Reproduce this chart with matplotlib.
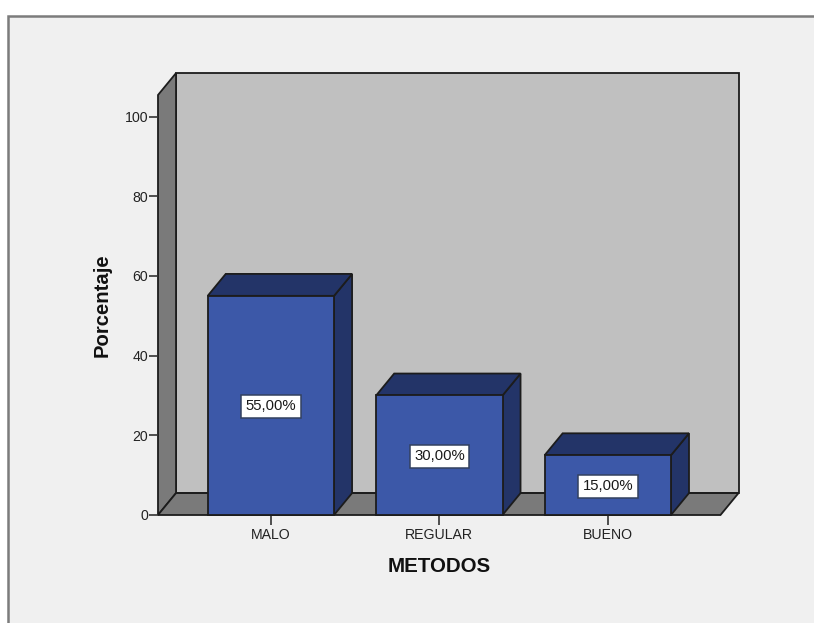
import matplotlib
matplotlib.use('Agg')
import matplotlib.pyplot as plt
from matplotlib.patches import Polygon, Rectangle

plt.rcParams['font.family'] = ['Liberation Sans', 'DejaVu Sans']

categories = ['MALO', 'REGULAR', 'BUENO']
percentages = [55.0, 30.0, 15.0]
y_ticks = [0, 20, 40, 60, 80, 100]

W, H = 814, 623
EDGE = '#1c1c1c'
WALL = '#c0c0c0'
SIDE = '#7a7a7a'
BAR_FRONT = '#3c58a8'
BAR_DARK = '#233468'

# extrusion of the 3d look, in data units
dx = 0.107
dy = 5.5
bar_width = 0.75
x_min, x_max = -0.67, 2.669
y_max = 105.4

fig = plt.figure(figsize=(W / 100, H / 100), dpi=100, facecolor='white')

# panel behind the chart, open towards the right and bottom
fig.add_artist(Rectangle((8 / W, -0.1), 1.1, (623 - 16) / H + 0.1, transform=fig.transFigure,
                         facecolor='#f0f0f0', edgecolor='#7c7c7c', linewidth=1.8, zorder=-1))

ax = fig.add_axes([158 / W, (H - 515) / H, (720.5 - 158) / W, (515 - 95) / H])
ax.set_xlim(x_min, x_max)
ax.set_ylim(0, y_max)
ax.patch.set_visible(False)


def face(points, color, z=1):
    ax.add_patch(Polygon(points, closed=True, facecolor=color, edgecolor=EDGE,
                         linewidth=1.3, joinstyle='miter', clip_on=False, zorder=z))


# back wall, left wall, floor
face([(x_min + dx, dy), (x_max + dx, dy), (x_max + dx, y_max + dy), (x_min + dx, y_max + dy)], WALL)
face([(x_min, 0), (x_min + dx, dy), (x_min + dx, y_max + dy), (x_min, y_max)], SIDE)
face([(x_min, 0), (x_max, 0), (x_max + dx, dy), (x_min + dx, dy)], SIDE)

for i, value in enumerate(percentages):
    left = i - bar_width / 2
    right = i + bar_width / 2
    face([(right, 0), (right + dx, dy), (right + dx, value + dy), (right, value)], BAR_DARK, 2)
    face([(left, value), (right, value), (right + dx, value + dy), (left + dx, value + dy)], BAR_DARK, 2)
    face([(left, 0), (right, 0), (right, value), (left, value)], BAR_FRONT, 2)
    ax.annotate(f'{value:.2f}%'.replace('.', ','), (i, value / 2), xytext=(0, -0.7),
                textcoords='offset points', ha='center', va='center',
                fontsize=10.7, color='#1a1a1a', zorder=3,
                bbox=dict(boxstyle='square,pad=0.3', facecolor='white', edgecolor='#33415f', linewidth=1.1))

for side in ['top', 'right', 'left', 'bottom']:
    ax.spines[side].set_visible(False)

ax.set_xticks(range(len(categories)))
ax.set_xticklabels(categories)
ax.set_yticks(y_ticks)
ax.tick_params(axis='x', length=7, width=1.2, color='#333333', labelsize=10.2,
               labelcolor='#222222', pad=2.5)
ax.tick_params(axis='y', length=6.5, width=1.2, color='#333333', labelsize=10.2,
               labelcolor='#222222', pad=0.5)

fig.text(102 / W, 1 - 305 / H, 'Porcentaje', rotation=90, ha='center', va='center',
         fontsize=14.6, fontweight='bold', color='#111111')
fig.text(439 / W, 1 - 566.5 / H, 'METODOS', ha='center', va='center',
         fontsize=14.8, fontweight='bold', color='#111111')

fig.savefig('out.png', dpi=100, facecolor=fig.get_facecolor())
